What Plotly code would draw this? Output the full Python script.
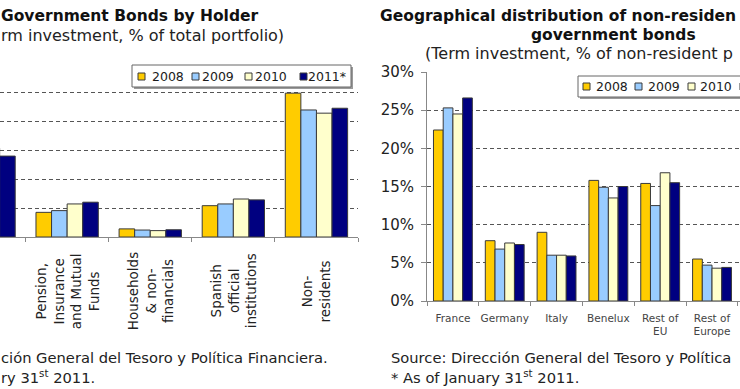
import plotly.graph_objects as go

W, H = 740, 389

# ---------------- data ----------------
years = ["2008", "2009", "2010", "2011*"]
year_colors = ["#FFCC00", "#99CCFF", "#FFFFCC", "#000080"]

holders = ["Credit<br>institutions",
           "Pension,<br>Insurance<br>and Mutual<br>Funds",
           "Households<br>& non-<br>financials",
           "Spanish<br>official<br>institutions",
           "Non-<br>residents"]
holder_2008 = [28.3, 8.5, 2.8, 10.8, 49.6]
holder_2009 = [33.3, 9.1, 2.4, 11.4, 43.8]
holder_2010 = [30.6, 11.4, 2.2, 13.1, 42.7]
holder_2011 = [27.9, 12.0, 2.5, 12.8, 44.4]

regions = ["France", "Germany", "Italy", "Benelux", "Rest of<br>EU", "Rest of<br>Europe"]
region_2008 = [22.4, 7.9, 9.0, 15.8, 15.4, 5.5]
region_2009 = [25.3, 6.8, 6.0, 14.9, 12.5, 4.7]
region_2010 = [24.5, 7.6, 6.0, 13.5, 16.8, 4.3]
region_2011 = [26.6, 7.4, 5.9, 15.0, 15.5, 4.4]

holder_series = [holder_2008, holder_2009, holder_2010, holder_2011]
region_series = [region_2008, region_2009, region_2010, region_2011]

FONT = "DejaVu Sans, Verdana, sans-serif"
TXT = "#222222"
OUTLINE = "#3a3a3a"


def px(x):
    return x / W


def py(y):
    return 1 - y / H


fig = go.Figure()

for name, col, vals in zip(years, year_colors, holder_series):
    fig.add_trace(go.Bar(x=holders, y=vals, name=name, marker_color=col,
                         marker_line_color=OUTLINE, marker_line_width=1,
                         xaxis="x", yaxis="y", showlegend=False))
for name, col, vals in zip(years, year_colors, region_series):
    fig.add_trace(go.Bar(x=regions, y=vals, name=name, marker_color=col,
                         marker_line_color=OUTLINE, marker_line_width=1,
                         xaxis="x2", yaxis="y2", showlegend=False))

grid = dict(showgrid=True, gridcolor="#555555", griddash="4px,3px", gridwidth=1)

fig.update_layout(
    width=W, height=H,
    margin=dict(l=0, r=0, t=0, b=0, pad=0, autoexpand=False),
    paper_bgcolor="white", plot_bgcolor="white",
    font=dict(family=FONT, color=TXT),
    barmode="group", bargap=0.25, bargroupgap=0,
    showlegend=False,
    xaxis=dict(domain=[0, px(358)], range=[0.192, 4.5], type="category",
               automargin=False,
               showline=True, linecolor="#888888", linewidth=1,
               ticks="outside", tickson="boundaries", ticklen=4, tickcolor="#888888",
               showticklabels=False,
               showgrid=False, zeroline=False),
    yaxis=dict(domain=[py(237), py(63)], range=[0, 60], dtick=10, automargin=False,
               showticklabels=False, showline=False, zeroline=False, **grid),
    xaxis2=dict(domain=[px(427), 1], range=[-0.5, 5.54], type="category",
                anchor="y2", automargin=False,
                showline=True, linecolor="#888888", linewidth=1,
                ticks="outside", tickson="boundaries", ticklen=4, tickcolor="#888888",
                tickangle=0, tickfont=dict(size=10.5, color="#444444"),
                ticklabelstandoff=7,
                showgrid=False, zeroline=False),
    yaxis2=dict(domain=[py(301), py(72)], range=[0, 30], dtick=5, anchor="x2",
                automargin=False,
                ticksuffix="%", tickfont=dict(size=15, color=TXT),
                ticklabelstandoff=4,
                showline=True, linecolor="#888888", linewidth=1,
                ticks="outside", ticklen=5, tickcolor="#888888",
                zeroline=False, **grid),
)

shapes = []
annotations = []

# category labels of the left chart, rotated and centred below the axis
for cat in holders[1:]:
    annotations.append(dict(xref="x", yref="paper", x=cat, y=py(291),
                            xanchor="center", yanchor="middle", showarrow=False,
                            textangle=-90, text=cat,
                            font=dict(size=13.5, color=TXT)))


def legend(x0, y0, x1, y1, sq_x, txt_x, yc, labels):
    shapes.append(dict(type="rect", xref="paper", yref="paper",
                       x0=px(x0 + 2), x1=px(x1 + 2), y0=py(y1 + 2), y1=py(y0 + 2),
                       fillcolor="#9a9a9a", line=dict(width=0), layer="above"))
    shapes.append(dict(type="rect", xref="paper", yref="paper",
                       x0=px(x0), x1=px(x1), y0=py(y1), y1=py(y0),
                       fillcolor="white", line=dict(color="#666666", width=1), layer="above"))
    for sx, tx, lab, col in zip(sq_x, txt_x, labels, year_colors):
        shapes.append(dict(type="rect", xref="paper", yref="paper",
                           x0=px(sx), x1=px(sx + 7), y0=py(yc + 3.5), y1=py(yc - 3.5),
                           fillcolor=col, line=dict(color=OUTLINE, width=1), layer="above"))
        if tx is not None:
            annotations.append(dict(xref="paper", yref="paper", x=px(tx), y=py(yc),
                                    xanchor="left", yanchor="middle", showarrow=False,
                                    text=lab, font=dict(size=12.5, color="#1a1a1a")))


legend(132, 65, 351, 87, [138, 192, 245, 300], [150, 200, 253, 306], 76.5, years)
legend(578, 76, 770, 97, [583, 635, 688, 740], [594, 646, 698, None], 86.5, years)


def text(x, y, s, size=13, bold=False, anchor="left", color=TXT):
    annotations.append(dict(xref="paper", yref="paper", x=px(x), y=py(y),
                            xanchor=anchor, yanchor="middle", showarrow=False,
                            text=("<b>%s</b>" % s) if bold else s,
                            font=dict(size=size, color=color)))


# titles (the reference is a crop, so only the visible part of each line)
text(-1, 16, "Government Bonds by Holder", size=15.5, bold=True, color="#111111")
text(-1, 35, "rm investment, % of total portfolio)", size=16)
text(378, 16, "Geographical distribution of non-residen", size=15.5, bold=True, color="#111111")
text(613, 35, "government bonds", size=15.5, bold=True, anchor="center", color="#111111")
text(423, 53, "(Term investment, % of non-resident p", size=16)

# footnotes
text(-1, 357, "ción General del Tesoro y Política Financiera.", size=14.7)
text(-1, 376, "ry 31<sup>st</sup> 2011.", size=14.7)
text(389, 357, "Source: Dirección General del Tesoro y Política", size=14.7)
text(389, 376, "* As of January 31<sup>st</sup> 2011.", size=14.7)

fig.update_layout(shapes=shapes, annotations=annotations)

fig.write_html("out.html",
               config={"displayModeBar": False},
               post_script="document.body.style.margin='0';document.body.style.overflow='hidden';")
